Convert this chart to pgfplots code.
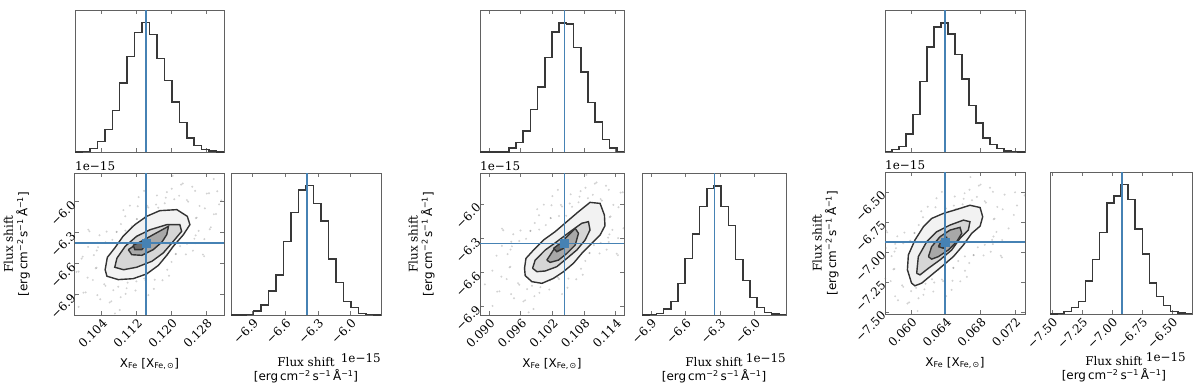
\documentclass[border=0pt]{standalone}
\usepackage{fontspec}
\setmainfont{DejaVu Serif}
\newfontfamily\dvs{DejaVu Sans}
\usepackage{pgfplots}
\pgfplotsset{compat=1.18}
\definecolor{truth}{RGB}{70,130,180}
\newcommand{\fs}{\fontsize{12}{14.5}\selectfont}
\pgfplotsset{
  corner/.style={scale only axis, anchor=north west, clip mode=individual,
    scaled ticks=false,
    axis line style={draw=black!62,line width=1bp},
    tick style={draw=black!55,line width=0.8bp},
    major tick length=4bp, tick align=inside,
    tick label style={font=\fs}, label style={font=\fs,align=center}},
  histline/.style={const plot,draw=black!78,line width=1.5bp},
  truthline/.style={draw=truth,line width=1.7bp},
  pts/.style={only marks,mark=*,mark size=1.1bp,draw opacity=0,fill=black!55,fill opacity=0.32},
  lev/.style={draw=black!80,line width=1.4bp},
  rotx/.style={xticklabel style={rotate=45,anchor=north east,inner sep=2bp}},
  roty/.style={yticklabel style={rotate=45,anchor=east,inner sep=2bp}},
}
\newcommand{\xfe}{{\dvs X\textsubscript{Fe} [X\textsubscript{Fe,\,⊙}]}}
\newcommand{\funit}{{\dvs{}[erg\,cm\textsuperscript{−2}\,s\textsuperscript{−1}\,Å\textsuperscript{−1}]}}
\begin{document}
\begin{tikzpicture}
\useasboundingbox (0,0) rectangle (1200bp,-387bp);

% ================= panel 1 =================
\begin{axis}[corner,at={(75bp,-10bp)},width=149bp,height=142bp,
  xmin=0.0979,xmax=0.1320,ymin=0,ymax=426,ytick=\empty,
  xtick={0.104,0.112,0.120,0.128},xticklabels={}]
\addplot[histline] coordinates {(0.0979,0) (0.09961,1) (0.10131,10) (0.10302,32) (0.10472,67) (0.10643,125) (0.10813,207) (0.10984,287) (0.11154,358) (0.11325,388) (0.11495,352) (0.11666,280) (0.11836,215) (0.12007,150) (0.12177,88) (0.12348,42) (0.12518,20) (0.12689,8) (0.12859,3) (0.13030,0) (0.1320,0)};
\addplot[truthline] coordinates {(0.1141,0) (0.1141,426)};
\end{axis}

\begin{axis}[corner,rotx,roty,at={(75bp,-173bp)},width=149bp,height=142bp,
  xmin=0.0979,xmax=0.1320,ymin=-7.10,ymax=-5.72,
  xtick={0.104,0.112,0.120,0.128},xticklabels={0.104,0.112,0.120,0.128},
  ytick={-6.9,-6.6,-6.3,-6.0},yticklabels={−6.9,−6.6,−6.3,−6.0},
  xlabel={\xfe},xlabel style={at={(axis description cs:0.5,-0.345)},anchor=center},
  ylabel={Flux shift\\\funit},ylabel style={at={(axis description cs:-0.39,0.5)},anchor=center}]
\addplot[pts] coordinates {(0.09983,-6.883) (0.09872,-6.679) (0.10367,-6.947) (0.10199,-6.760) (0.10621,-6.967) (0.09967,-6.533) (0.10488,-6.817) (0.10283,-6.641) (0.10835,-6.927) (0.10090,-6.438) (0.10780,-6.825) (0.10288,-6.474) (0.10971,-6.840) (0.10303,-6.398) (0.11175,-6.862) (0.10487,-6.392) (0.11144,-6.742) (0.10514,-6.289) (0.11372,-6.745) (0.10743,-6.293) (0.11614,-6.757) (0.10945,-6.280) (0.11634,-6.633) (0.10939,-6.140) (0.11745,-6.564) (0.11206,-6.168) (0.11999,-6.584) (0.11396,-6.147) (0.12097,-6.508) (0.11442,-6.039) (0.12195,-6.431) (0.11644,-6.027) (0.12489,-6.475) (0.11846,-6.014) (0.12522,-6.359) (0.11892,-5.906) (0.12620,-6.282) (0.12173,-5.941) (0.12576,-6.154) (0.12379,-5.999) (0.12898,-6.248) (0.12256,-5.822) (0.12762,-6.063) (0.12539,-5.893) (0.13018,-6.118) (0.12806,-5.920) (0.13090,-6.025) (0.13046,-5.897) (0.09701,-6.813) (0.10703,-7.085) (0.11469,-6.906) (0.11247,-5.954) (0.12025,-5.749) (0.10095,-6.271) (0.12719,-6.513) (0.13263,-5.927) (0.09875,-7.021) (0.11942,-6.719) (0.11048,-6.037) (0.11279,-6.654)};
\addplot[pts] coordinates {(0.12857,-5.917) (0.12968,-6.121) (0.12473,-5.853) (0.12641,-6.040) (0.12219,-5.833) (0.12873,-6.267) (0.12352,-5.983) (0.12557,-6.159) (0.12005,-5.873) (0.12750,-6.362) (0.12060,-5.975) (0.12552,-6.326) (0.11869,-5.960) (0.12537,-6.402) (0.11665,-5.938) (0.12353,-6.408) (0.11696,-6.058) (0.12326,-6.511) (0.11468,-6.055) (0.12097,-6.507) (0.11226,-6.043) (0.11895,-6.520) (0.11206,-6.167) (0.11901,-6.660) (0.11095,-6.236) (0.11634,-6.632) (0.10841,-6.216) (0.11444,-6.653) (0.10743,-6.292) (0.11398,-6.761) (0.10645,-6.369) (0.11196,-6.773) (0.10351,-6.325) (0.10994,-6.786) (0.10318,-6.441) (0.10948,-6.894) (0.10220,-6.518) (0.10667,-6.859) (0.10264,-6.646) (0.10461,-6.801) (0.09942,-6.552) (0.10584,-6.978) (0.10078,-6.737) (0.10301,-6.907) (0.09822,-6.682) (0.10034,-6.880) (0.09750,-6.775) (0.09794,-6.903) (0.13139,-5.987) (0.11371,-5.894) (0.11593,-6.846) (0.10815,-7.051) (0.12745,-6.529) (0.10121,-6.287) (0.12965,-5.779) (0.10898,-6.081) (0.11792,-6.763) (0.11561,-6.146)};
\addplot[lev,fill=black!5] coordinates {(0.1048,-6.660) (0.1053,-6.540) (0.1070,-6.449) (0.1089,-6.335) (0.1116,-6.222) (0.1143,-6.141) (0.1173,-6.086) (0.1212,-6.076) (0.1236,-6.141) (0.1242,-6.222) (0.1227,-6.320) (0.1204,-6.432) (0.1189,-6.520) (0.1170,-6.617) (0.1143,-6.701) (0.1112,-6.747) (0.1078,-6.756) (0.1052,-6.723) (0.1048,-6.660)};
\addplot[lev,fill=black!16] coordinates {(0.1075,-6.547) (0.1094,-6.432) (0.1120,-6.335) (0.1151,-6.271) (0.1189,-6.222) (0.1219,-6.222) (0.1223,-6.287) (0.1204,-6.384) (0.1181,-6.497) (0.1155,-6.578) (0.1120,-6.636) (0.1090,-6.660) (0.1070,-6.636) (0.1075,-6.547)};
\addplot[lev,fill=black!34] coordinates {(0.1101,-6.465) (0.1124,-6.400) (0.1158,-6.319) (0.1193,-6.238) (0.1189,-6.319) (0.1178,-6.391) (0.1158,-6.465) (0.1132,-6.520) (0.1109,-6.514) (0.1101,-6.465)};
\addplot[lev,fill=black!58] coordinates {(0.1112,-6.422) (0.1128,-6.391) (0.1142,-6.410) (0.1132,-6.465) (0.1116,-6.465) (0.1112,-6.422)};
\addplot[truthline] coordinates {(0.1141,-7.10) (0.1141,-5.72)};
\addplot[truthline] coordinates {(0.0979,-6.398) (0.1320,-6.398)};
\addplot[only marks,mark=square*,mark size=4bp,color=truth] coordinates {(0.1141,-6.398)};
\node[font=\fs,anchor=base west,inner sep=0pt] at ([yshift=3bp]rel axis cs:0,1) {1e−15};
\end{axis}

\begin{axis}[corner,rotx,at={(231bp,-173bp)},width=150bp,height=142bp,
  xmin=-7.10,xmax=-5.72,ymin=0,ymax=426,ytick=\empty,
  xtick={-6.9,-6.6,-6.3,-6.0},xticklabels={−6.9,−6.6,−6.3,−6.0},
  xlabel={Flux shift\\\funit},xlabel style={at={(axis description cs:0.5,-0.39)},anchor=center}]
\addplot[histline] coordinates {(-7.100,0) (-7.031,0.5) (-6.962,2) (-6.893,12) (-6.824,30) (-6.755,72) (-6.686,120) (-6.617,220) (-6.548,308) (-6.479,375) (-6.410,388) (-6.341,335) (-6.272,282) (-6.203,168) (-6.134,98) (-6.065,40) (-5.996,22) (-5.927,5) (-5.858,2) (-5.789,0) (-5.720,0)};
\addplot[truthline] coordinates {(-6.398,0) (-6.398,426)};
\node[font=\fs,anchor=base east,inner sep=0pt] at ([yshift=-47bp]rel axis cs:1,0) {1e−15};
\end{axis}

% ================= panel 2 =================
\begin{axis}[corner,at={(480bp,-10bp)},width=144bp,height=142bp,
  xmin=0.08824,xmax=0.11557,ymin=0,ymax=423,ytick=\empty,
  xtick={0.090,0.096,0.102,0.108,0.114},xticklabels={}]
\addplot[histline] coordinates {(0.08824,0) (0.08961,0) (0.09097,0) (0.09234,0.5) (0.09371,12) (0.09507,29) (0.09644,62) (0.09781,127) (0.09917,194) (0.10054,282) (0.10191,357) (0.10327,385) (0.10464,382) (0.10600,312) (0.10737,239) (0.10874,147) (0.11010,90) (0.11147,37) (0.11284,12) (0.11420,2) (0.11557,2)};
\addplot[truthline] coordinates {(0.10427,0) (0.10427,423)};
\end{axis}

\begin{axis}[corner,rotx,roty,at={(480bp,-173bp)},width=144bp,height=142bp,
  xmin=0.08824,xmax=0.11557,ymin=-6.979,ymax=-5.727,
  xtick={0.090,0.096,0.102,0.108,0.114},xticklabels={0.090,0.096,0.102,0.108,0.114},
  ytick={-6.9,-6.6,-6.3,-6.0},yticklabels={−6.9,−6.6,−6.3,−6.0},
  xlabel={\xfe},xlabel style={at={(axis description cs:0.5,-0.345)},anchor=center},
  ylabel={Flux shift\\\funit},ylabel style={at={(axis description cs:-0.406,0.5)},anchor=center}]
\addplot[pts] coordinates {(0.09151,-6.773) (0.09059,-6.588) (0.09469,-6.831) (0.09330,-6.662) (0.09680,-6.849) (0.09138,-6.456) (0.09569,-6.713) (0.09399,-6.554) (0.09857,-6.813) (0.09239,-6.369) (0.09811,-6.721) (0.09404,-6.402) (0.09970,-6.734) (0.09417,-6.334) (0.10139,-6.755) (0.09569,-6.327) (0.10113,-6.645) (0.09591,-6.234) (0.10303,-6.648) (0.09781,-6.238) (0.10503,-6.658) (0.09948,-6.226) (0.10519,-6.546) (0.09943,-6.099) (0.10611,-6.484) (0.10165,-6.124) (0.10822,-6.502) (0.10322,-6.106) (0.10903,-6.433) (0.10360,-6.008) (0.10985,-6.363) (0.10528,-5.996) (0.11228,-6.403) (0.10695,-5.985) (0.11255,-6.297) (0.10733,-5.887) (0.11337,-6.228) (0.10966,-5.919) (0.11300,-6.111) (0.11137,-5.971) (0.11035,-5.811) (0.11454,-6.029) (0.11269,-5.875) (0.11491,-5.900) (0.08917,-6.709) (0.09748,-6.956) (0.10382,-6.794) (0.10199,-5.931) (0.10843,-5.744) (0.09243,-6.218) (0.11419,-6.438) (0.09062,-6.899) (0.10775,-6.624) (0.10034,-6.006) (0.10225,-6.566)};
\addplot[pts] coordinates {(0.11533,-5.897) (0.11215,-5.839) (0.11354,-6.008) (0.11004,-5.821) (0.11546,-6.214) (0.11115,-5.957) (0.11285,-6.116) (0.10827,-5.857) (0.11445,-6.301) (0.10873,-5.949) (0.11280,-6.268) (0.10714,-5.936) (0.11267,-6.336) (0.10545,-5.915) (0.11115,-6.343) (0.10571,-6.025) (0.11093,-6.436) (0.10381,-6.022) (0.10903,-6.432) (0.10181,-6.012) (0.10736,-6.444) (0.10165,-6.124) (0.10741,-6.571) (0.10073,-6.186) (0.10519,-6.546) (0.09862,-6.168) (0.10362,-6.564) (0.09781,-6.237) (0.10324,-6.662) (0.09699,-6.307) (0.10156,-6.674) (0.09456,-6.267) (0.09989,-6.685) (0.09429,-6.373) (0.09951,-6.783) (0.09347,-6.442) (0.09718,-6.751) (0.09384,-6.559) (0.09547,-6.699) (0.09649,-6.859) (0.09230,-6.641) (0.09415,-6.795) (0.09193,-6.770) (0.10302,-5.876) (0.10485,-6.739) (0.09841,-6.926) (0.11441,-6.452) (0.09265,-6.232) (0.09909,-6.046) (0.10650,-6.664) (0.10459,-6.104)};
\addplot[lev,fill=black!5] coordinates {(0.09669,-6.567) (0.09696,-6.480) (0.09841,-6.406) (0.10029,-6.318) (0.10251,-6.244) (0.10472,-6.156) (0.10693,-6.068) (0.10912,-5.986) (0.11103,-5.995) (0.11185,-6.098) (0.11196,-6.192) (0.11103,-6.274) (0.10912,-6.362) (0.10756,-6.436) (0.10598,-6.523) (0.10409,-6.597) (0.10218,-6.656) (0.09999,-6.700) (0.09808,-6.685) (0.09682,-6.632) (0.09669,-6.567)};
\addplot[lev,fill=black!16] coordinates {(0.09822,-6.567) (0.09871,-6.495) (0.10062,-6.406) (0.10281,-6.333) (0.10535,-6.244) (0.10756,-6.170) (0.10882,-6.156) (0.10912,-6.229) (0.10819,-6.318) (0.10661,-6.406) (0.10472,-6.480) (0.10281,-6.553) (0.10062,-6.591) (0.09904,-6.597) (0.09822,-6.567)};
\addplot[lev,fill=black!34] coordinates {(0.10092,-6.495) (0.10218,-6.406) (0.10409,-6.318) (0.10631,-6.215) (0.10693,-6.259) (0.10631,-6.362) (0.10472,-6.436) (0.10314,-6.495) (0.10155,-6.515) (0.10092,-6.495)};
\addplot[lev,fill=black!58] coordinates {(0.10218,-6.392) (0.10346,-6.347) (0.10472,-6.338) (0.10409,-6.392) (0.10281,-6.421) (0.10218,-6.392)};
\addplot[truthline] coordinates {(0.10427,-6.979) (0.10427,-5.727)};
\addplot[truthline] coordinates {(0.08824,-6.348) (0.11557,-6.348)};
\addplot[only marks,mark=square*,mark size=4bp,color=truth] coordinates {(0.10427,-6.348)};
\node[font=\fs,anchor=base west,inner sep=0pt] at ([yshift=3bp]rel axis cs:0,1) {1e−15};
\end{axis}

\begin{axis}[corner,rotx,at={(642bp,-173bp)},width=144bp,height=142bp,
  xmin=-6.979,xmax=-5.727,ymin=0,ymax=426,ytick=\empty,
  xtick={-6.9,-6.6,-6.3,-6.0},xticklabels={−6.9,−6.6,−6.3,−6.0},
  xlabel={Flux shift\\\funit},xlabel style={at={(axis description cs:0.5,-0.39)},anchor=center}]
\addplot[histline] coordinates {(-6.979,0) (-6.9164,1) (-6.8538,5) (-6.7912,18) (-6.7286,40) (-6.666,95) (-6.6034,170) (-6.5408,243) (-6.4782,325) (-6.4156,380) (-6.353,387) (-6.2904,325) (-6.2278,268) (-6.1652,167) (-6.1026,103) (-6.04,52) (-5.9774,22) (-5.9148,7) (-5.8522,3) (-5.7896,1) (-5.727,1)};
\addplot[truthline] coordinates {(-6.348,0) (-6.348,426)};
\node[font=\fs,anchor=base east,inner sep=0pt] at ([yshift=-47bp]rel axis cs:1,0) {1e−15};
\end{axis}

% ================= panel 3 =================
\begin{axis}[corner,at={(885bp,-10bp)},width=140bp,height=142bp,
  xmin=0.05697,xmax=0.07315,ymin=0,ymax=429,ytick=\empty,
  xtick={0.060,0.064,0.068,0.072},xticklabels={}]
\addplot[histline] coordinates {(0.05697,2) (0.05778,7) (0.05859,17) (0.05940,55) (0.06021,113) (0.06102,213) (0.06182,317) (0.06263,377) (0.06344,390) (0.06425,357) (0.06506,295) (0.06587,220) (0.06668,140) (0.06749,87) (0.06830,43) (0.06911,23) (0.06991,10) (0.07072,3) (0.07153,1) (0.07234,0) (0.07315,0)};
\addplot[truthline] coordinates {(0.0639,0) (0.0639,429)};
\end{axis}

\begin{axis}[corner,rotx,roty,at={(885bp,-172bp)},width=140bp,height=142bp,
  xmin=0.05697,xmax=0.07315,ymin=-7.517,ymax=-6.334,
  xtick={0.060,0.064,0.068,0.072},xticklabels={0.060,0.064,0.068,0.072},
  ytick={-7.50,-7.25,-7.00,-6.75,-6.50},yticklabels={−7.50,−7.25,−7.00,−6.75,−6.50},
  xlabel={\xfe},xlabel style={at={(axis description cs:0.5,-0.345)},anchor=center},
  ylabel={Flux shift\\\funit},ylabel style={at={(axis description cs:-0.425,0.5)},anchor=center}]
\addplot[pts] coordinates {(0.05847,-7.403) (0.05763,-7.243) (0.05976,-7.420) (0.05908,-7.291) (0.05805,-7.141) (0.06084,-7.386) (0.05707,-6.967) (0.06056,-7.299) (0.05807,-6.997) (0.06152,-7.311) (0.05815,-6.933) (0.06255,-7.330) (0.05908,-6.927) (0.06240,-7.227) (0.05922,-6.839) (0.06355,-7.230) (0.06037,-6.842) (0.06477,-7.240) (0.06139,-6.831) (0.06487,-7.133) (0.06136,-6.711) (0.06543,-7.075) (0.06271,-6.735) (0.06671,-7.092) (0.06367,-6.717) (0.06721,-7.026) (0.06390,-6.625) (0.06770,-6.961) (0.06492,-6.614) (0.06919,-6.998) (0.06594,-6.603) (0.06935,-6.899) (0.06617,-6.511) (0.06985,-6.833) (0.06759,-6.541) (0.06963,-6.723) (0.06863,-6.590) (0.07125,-6.804) (0.06801,-6.439) (0.07057,-6.645) (0.06944,-6.499) (0.07186,-6.692) (0.07079,-6.523) (0.07222,-6.613) (0.07200,-6.503) (0.06404,-7.368) (0.06292,-6.552) (0.06684,-6.376) (0.05710,-6.823) (0.07035,-7.031) (0.07310,-6.529) (0.06643,-7.207) (0.06191,-6.623) (0.06308,-7.152)};
\addplot[pts] coordinates {(0.06911,-6.465) (0.06995,-6.625) (0.06782,-6.448) (0.06850,-6.577) (0.06953,-6.727) (0.06674,-6.482) (0.07051,-6.901) (0.06702,-6.569) (0.06951,-6.871) (0.06606,-6.557) (0.06943,-6.935) (0.06503,-6.538) (0.06850,-6.941) (0.06518,-6.641) (0.06836,-7.029) (0.06403,-6.638) (0.06721,-7.026) (0.06281,-6.628) (0.06619,-7.037) (0.06271,-6.735) (0.06622,-7.157) (0.06215,-6.793) (0.06487,-7.133) (0.06087,-6.776) (0.06391,-7.151) (0.06037,-6.842) (0.06368,-7.243) (0.05988,-6.907) (0.06266,-7.254) (0.05839,-6.870) (0.06164,-7.265) (0.05823,-6.969) (0.06141,-7.357) (0.05773,-7.035) (0.05999,-7.327) (0.05795,-7.145) (0.05895,-7.278) (0.05957,-7.429) (0.05701,-7.223) (0.05814,-7.369) (0.06354,-6.500) (0.06466,-7.316) (0.06074,-7.492) (0.07048,-7.045) (0.05723,-6.837) (0.06115,-6.661) (0.06567,-7.245) (0.06450,-6.716)};
\addplot[lev,fill=black!5] coordinates {(0.06004,-7.260) (0.05956,-7.149) (0.05967,-7.025) (0.06043,-6.901) (0.06140,-6.791) (0.06236,-6.721) (0.06372,-6.679) (0.06525,-6.646) (0.06679,-6.611) (0.06796,-6.630) (0.06826,-6.707) (0.06796,-6.785) (0.06699,-6.845) (0.06603,-6.942) (0.06487,-7.039) (0.06352,-7.122) (0.06236,-7.191) (0.06121,-7.260) (0.06043,-7.282) (0.06004,-7.260)};
\addplot[lev,fill=black!16] coordinates {(0.06063,-7.178) (0.06082,-7.039) (0.06179,-6.915) (0.06294,-6.832) (0.06448,-6.776) (0.06603,-6.735) (0.06679,-6.748) (0.06660,-6.818) (0.06564,-6.887) (0.06467,-6.984) (0.06333,-7.066) (0.06199,-7.136) (0.06102,-7.191) (0.06063,-7.178)};
\addplot[lev,fill=black!34] coordinates {(0.06199,-7.039) (0.06236,-6.956) (0.06333,-6.873) (0.06448,-6.818) (0.06564,-6.795) (0.06584,-6.845) (0.06525,-6.915) (0.06428,-6.984) (0.06314,-7.039) (0.06236,-7.060) (0.06199,-7.039)};
\addplot[lev,fill=black!58] coordinates {(0.06314,-6.956) (0.06352,-6.901) (0.06409,-6.878) (0.06428,-6.928) (0.06372,-6.969) (0.06314,-6.956)};
\addplot[truthline] coordinates {(0.0639,-7.517) (0.0639,-6.334)};
\addplot[truthline] coordinates {(0.05697,-6.915) (0.07315,-6.915)};
\addplot[only marks,mark=square*,mark size=4bp,color=truth] coordinates {(0.0639,-6.915)};
\node[font=\fs,anchor=base west,inner sep=0pt] at ([yshift=3bp]rel axis cs:0,1) {1e−15};
\end{axis}

\begin{axis}[corner,rotx,at={(1050bp,-172bp)},width=142bp,height=142bp,
  xmin=-7.517,xmax=-6.334,ymin=0,ymax=428,ytick=\empty,
  xtick={-7.50,-7.25,-7.00,-6.75,-6.50},xticklabels={−7.50,−7.25,−7.00,−6.75,−6.50},
  xlabel={Flux shift\\\funit},xlabel style={at={(axis description cs:0.45,-0.39)},anchor=center}]
\addplot[histline] coordinates {(-7.517,0) (-7.4579,2) (-7.3987,8) (-7.3396,20) (-7.2804,38) (-7.2213,100) (-7.1621,165) (-7.103,245) (-7.0438,335) (-6.9847,356) (-6.9255,391) (-6.8664,345) (-6.8072,256) (-6.7481,181) (-6.6889,93) (-6.6298,53) (-6.5706,26) (-6.5115,8) (-6.4523,3) (-6.3932,1) (-6.334,1)};
\addplot[truthline] coordinates {(-6.915,0) (-6.915,428)};
\node[font=\fs,anchor=base east,inner sep=0pt] at ([xshift=-6bp,yshift=-47bp]rel axis cs:1,0) {1e−15};
\end{axis}
\end{tikzpicture}
\end{document}
